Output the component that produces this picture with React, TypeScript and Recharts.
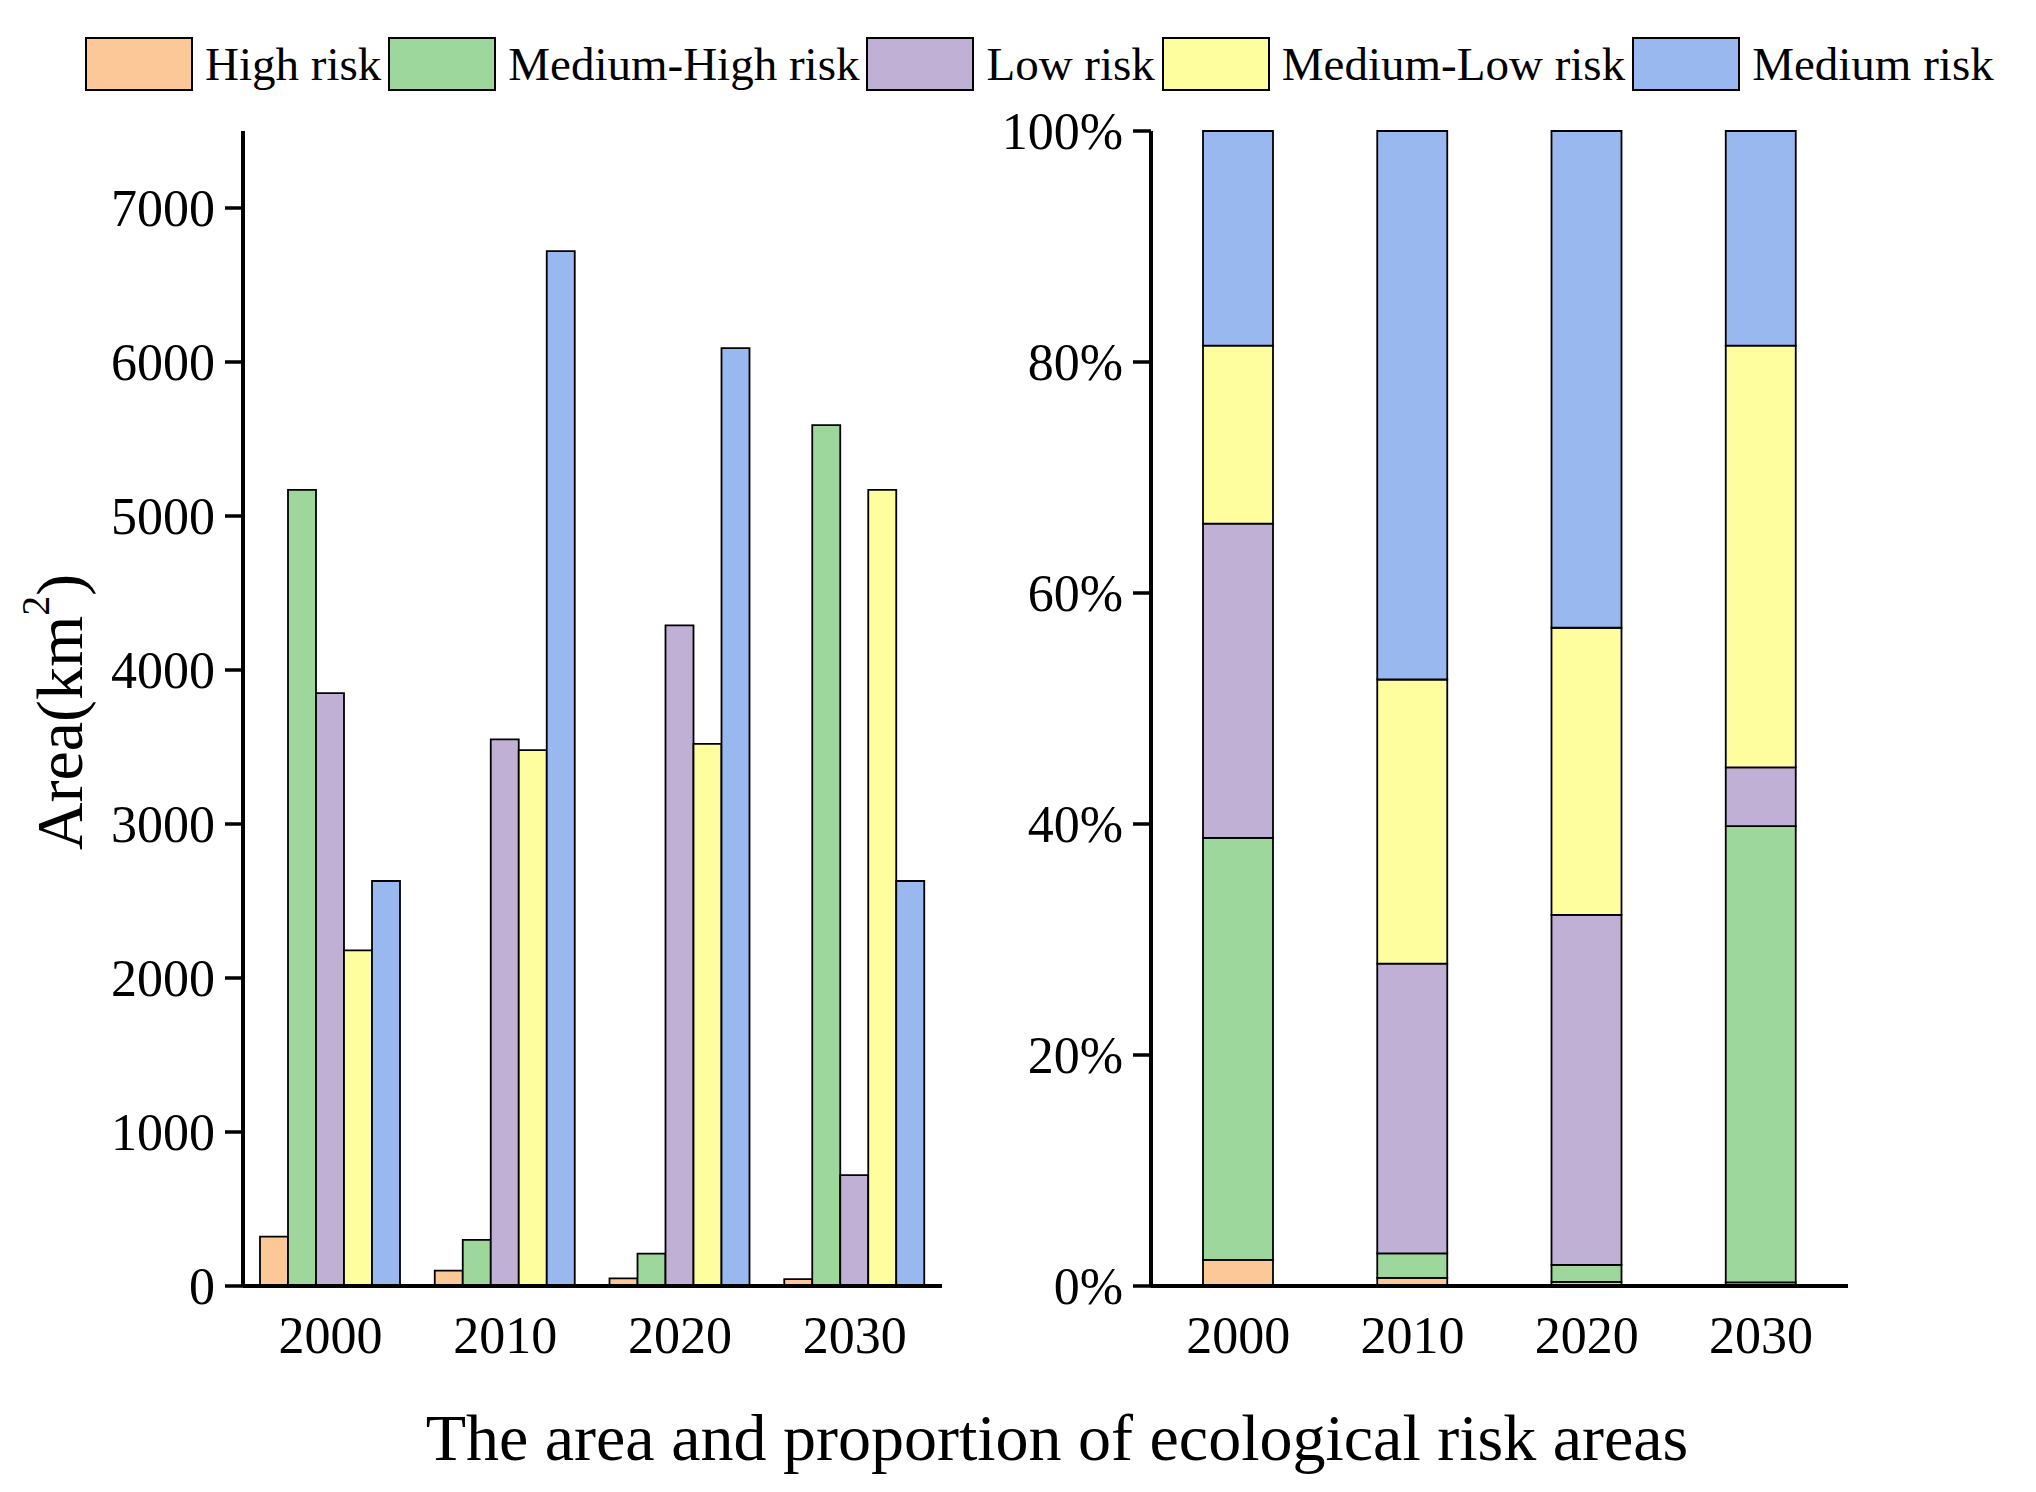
import React from 'react';
import { BarChart, Bar, XAxis, YAxis, Legend } from 'recharts';

const FONT = '"Liberation Serif", "Times New Roman", Times, serif';

const years = ['2000', '2010', '2020', '2030'];
const highRisk = [320, 100, 50, 45];
const mediumHighRisk = [5170, 300, 210, 5590];
const lowRisk = [3850, 3550, 4290, 720];
const mediumLowRisk = [2180, 3480, 3520, 5170];
const mediumRisk = [2630, 6720, 6090, 2630];

const areaTicks = [0, 1000, 2000, 3000, 4000, 5000, 6000, 7000];
const shareTicks = [0, 0.2, 0.4, 0.6, 0.8, 1];

const seriesNames = ['High risk', 'Medium-High risk', 'Low risk', 'Medium-Low risk', 'Medium risk'];
const seriesKeys = ['high', 'mediumHigh', 'low', 'mediumLow', 'medium'];
const seriesColors = ['#FDC898', '#9DD79C', '#C0B0D6', '#FFFE9E', '#9AB8F0'];
const seriesValues = [highRisk, mediumHighRisk, lowRisk, mediumLowRisk, mediumRisk];

const data = years.map((year, i) => {
  const row: Record<string, string | number> = { year };
  seriesKeys.forEach((k, j) => {
    row[k] = seriesValues[j][i];
  });
  return row;
});

const tickStyle = { fontSize: 52, fill: '#000', fontFamily: FONT };

const LegendContent = () => (
  <div style={{ display: 'flex', alignItems: 'center', fontFamily: FONT, fontSize: 47, color: '#000' }}>
    {seriesNames.map((n, i) => (
      <div key={n} style={{ display: 'flex', alignItems: 'center', marginRight: 7 }}>
        <div
          style={{
            width: 104,
            height: 50,
            background: seriesColors[i],
            border: '2.5px solid #000',
            marginRight: 12,
          }}
        />
        <span style={{ lineHeight: '54px', whiteSpace: 'nowrap' }}>{n}</span>
      </div>
    ))}
  </div>
);

const YTitle = () => (
  <text
    x={59}
    y={712}
    transform="rotate(-90 59 712)"
    textAnchor="middle"
    dominantBaseline="central"
    fontSize={66}
    fontFamily={FONT}
    fill="#000"
  >
    Area(km
    <tspan dy={-24} fontSize={40}>2</tspan>
    <tspan dy={24}>)</tspan>
  </text>
);

export default function App() {
  return (
    <div style={{ position: 'absolute', left: 0, top: 0, width: 2036, height: 1492, background: '#fff', overflow: 'hidden' }}>
      <div style={{ position: 'absolute', left: 0, top: 0 }}>
        <BarChart
          width={1000}
          height={1492}
          data={data}
          margin={{ top: 131, right: 58, bottom: 106, left: 0 }}
          barGap={0}
        >
          <XAxis
            dataKey="year"
            height={100}
            tickLine={false}
            tickSize={0}
            tickMargin={30}
            tick={tickStyle}
            axisLine={{ stroke: '#000', strokeWidth: 4 }}
          />
          <YAxis
            width={243}
            domain={[0, 7500]}
            ticks={areaTicks}
            interval={0}
            tickSize={18}
            tickMargin={10}
            tick={tickStyle}
            tickLine={{ stroke: '#000', strokeWidth: 3.5 }}
            axisLine={{ stroke: '#000', strokeWidth: 4 }}
            label={{ content: () => <YTitle /> }}
          />
          <Legend
            layout="horizontal"
            verticalAlign="middle"
            align="center"
            content={() => <LegendContent />}
            wrapperStyle={{ position: 'absolute', top: 37, left: 85, width: 1951, height: 54 }}
          />
          {seriesKeys.map((k, i) => (
            <Bar
              key={k}
              dataKey={k}
              name={seriesNames[i]}
              fill={seriesColors[i]}
              stroke="#000"
              strokeWidth={1.8}
              barSize={28}
              isAnimationActive={false}
            />
          ))}
        </BarChart>
      </div>
      <div style={{ position: 'absolute', left: 1000, top: 0 }}>
        <BarChart
          width={1036}
          height={1492}
          data={data}
          stackOffset="expand"
          margin={{ top: 131, right: 188, bottom: 106, left: 0 }}
        >
          <XAxis
            dataKey="year"
            height={100}
            tickLine={false}
            tickSize={0}
            tickMargin={30}
            tick={tickStyle}
            axisLine={{ stroke: '#000', strokeWidth: 4 }}
          />
          <YAxis
            width={151}
            domain={[0, 1]}
            ticks={shareTicks}
            interval={0}
            tickSize={18}
            tickMargin={10}
            tick={tickStyle}
            tickFormatter={(v: number) => `${Math.round(v * 100)}%`}
            tickLine={{ stroke: '#000', strokeWidth: 3.5 }}
            axisLine={{ stroke: '#000', strokeWidth: 4 }}
          />
          {seriesKeys.map((k, i) => (
            <Bar
              key={k}
              dataKey={k}
              name={seriesNames[i]}
              stackId="share"
              fill={seriesColors[i]}
              stroke="#000"
              strokeWidth={1.8}
              barSize={70}
              isAnimationActive={false}
            />
          ))}
        </BarChart>
      </div>
      <svg width={2036} height={1492} style={{ position: 'absolute', left: 0, top: 0, pointerEvents: 'none' }}>
        <text
          x={1057}
          y={1437}
          textAnchor="middle"
          dominantBaseline="central"
          fontSize={66}
          fontFamily={FONT}
          fill="#000"
        >
          The area and proportion of ecological risk areas
        </text>
      </svg>
    </div>
  );
}
